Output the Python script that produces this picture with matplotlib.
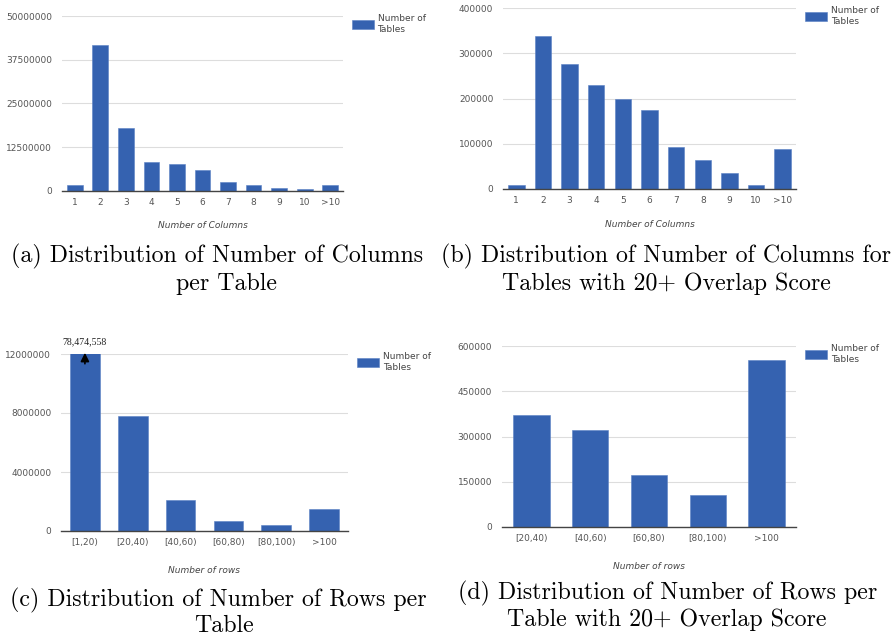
import matplotlib
matplotlib.use("Agg")
import matplotlib.pyplot as plt

# (a) columns per table
cols_labels = ["1", "2", "3", "4", "5", "6", "7", "8", "9", "10", ">10"]
cols_all = [1530000, 41700000, 18000000, 8300000, 7500000, 5800000,
            2500000, 1500000, 760000, 480000, 1700000]
cols_all_ticks = [0, 12500000, 25000000, 37500000, 50000000]

# (b) columns, tables with 20+ overlap score
cols_overlap = [8000, 339000, 277000, 231000, 199000, 174000,
                92000, 64000, 35500, 8000, 89000]
cols_overlap_ticks = [0, 100000, 200000, 300000, 400000]

# (c) rows per table
rows_labels_all = ["[1,20)", "[20,40)", "[40,60)", "[60,80)", "[80,100)", ">100"]
rows_all = [78474558, 7800000, 2120000, 700000, 410000, 1490000]
rows_all_ticks = [0, 4000000, 8000000, 12000000]

# (d) rows, tables with 20+ overlap score
rows_labels_overlap = ["[20,40)", "[40,60)", "[60,80)", "[80,100)", ">100"]
rows_overlap = [371000, 320000, 174000, 106000, 552000]
rows_overlap_ticks = [0, 150000, 300000, 450000, 600000]

BAR = "#3562b0"
W, H = 891, 636


def px_axes(fig, left, top, right, bottom):
    return fig.add_axes([left / W, 1 - bottom / H, (right - left) / W, (bottom - top) / H])


def bar_panel(ax, labels, values, yticks, xlabel, xlabel_pad):
    x = range(len(labels))
    ax.bar(x, values, width=0.618, color=BAR, edgecolor="#5a80c4", lw=0.4,
           zorder=3, label="Number of\nTables")
    ax.set_xlim(-0.5, len(labels) - 0.5)
    ax.set_ylim(0, yticks[-1])
    ax.set_yticks(yticks)
    ax.set_yticklabels([str(t) for t in yticks])
    ax.set_xticks(list(x))
    ax.set_xticklabels(labels)
    ax.tick_params(length=0, labelsize=6.5, labelcolor="#555555")
    ax.tick_params(axis="y", pad=7)
    ax.tick_params(axis="x", pad=5)
    for sp in ("top", "right", "left"):
        ax.spines[sp].set_visible(False)
    ax.spines["bottom"].set_color("#444444")
    ax.spines["bottom"].set_linewidth(1.0)
    ax.spines["bottom"].set_zorder(4)
    ax.grid(True, axis="y", color="#dddddd", lw=0.8, zorder=0)
    ax.set_xlabel(xlabel, fontsize=6.5, style="italic", color="#444444",
                  labelpad=xlabel_pad)
    ax.legend(loc="upper left", bbox_to_anchor=(1.02, 1.03), frameon=False,
              fontsize=6.5, labelcolor="#444444", handlelength=2.4,
              handleheight=1.2, handletextpad=0.4, borderaxespad=0)


fig = plt.figure(figsize=(W / 100, H / 100), dpi=100)

ax_a = px_axes(fig, 62, 16, 343, 190.7)
bar_panel(ax_a, cols_labels, cols_all, cols_all_ticks, "Number of Columns", 10)

ax_b = px_axes(fig, 503, 8.3, 796, 188.7)
bar_panel(ax_b, cols_labels, cols_overlap, cols_overlap_ticks, "Number of Columns", 11)

ax_c = px_axes(fig, 61, 354, 348, 531)
bar_panel(ax_c, rows_labels_all, rows_all, rows_all_ticks, "Number of rows", 14)
# first bar runs off the scale: label it with its real value
ax_c.annotate("", xy=(0, 12270000), xytext=(0, 11150000), annotation_clip=False,
              arrowprops=dict(arrowstyle="-|>,head_width=0.25,head_length=0.5",
                              color="black", lw=1.2), zorder=6)
ax_c.text(0, 12800000, f"{rows_all[0]:,}", ha="center", va="center",
          fontsize=7, family="Liberation Serif", color="#222222", zorder=6)

ax_d = px_axes(fig, 502, 346, 796, 527)
bar_panel(ax_d, rows_labels_overlap, rows_overlap, rows_overlap_ticks, "Number of rows", 14)

cap = dict(family="cmr10", fontsize=17.2, ha="center", va="center", color="#000000")
fig.text(217 / W, 1 - 256 / H, "(a) Distribution of Number of Columns", **cap)
fig.text(226 / W, 1 - 284 / H, "per Table", **cap)
fig.text(666 / W, 1 - 256 / H, "(b) Distribution of Number of Columns for", **cap)
fig.text(666 / W, 1 - 284 / H, "Tables with 20+ Overlap Score", **cap)
fig.text(218 / W, 1 - 600 / H, "(c) Distribution of Number of Rows per", **cap)
fig.text(224 / W, 1 - 626 / H, "Table", **cap)
fig.text(668 / W, 1 - 593 / H, "(d) Distribution of Number of Rows per", **cap)
fig.text(667 / W, 1 - 620 / H, "Table with 20+ Overlap Score", **cap)

fig.savefig("out.png", dpi=100)
